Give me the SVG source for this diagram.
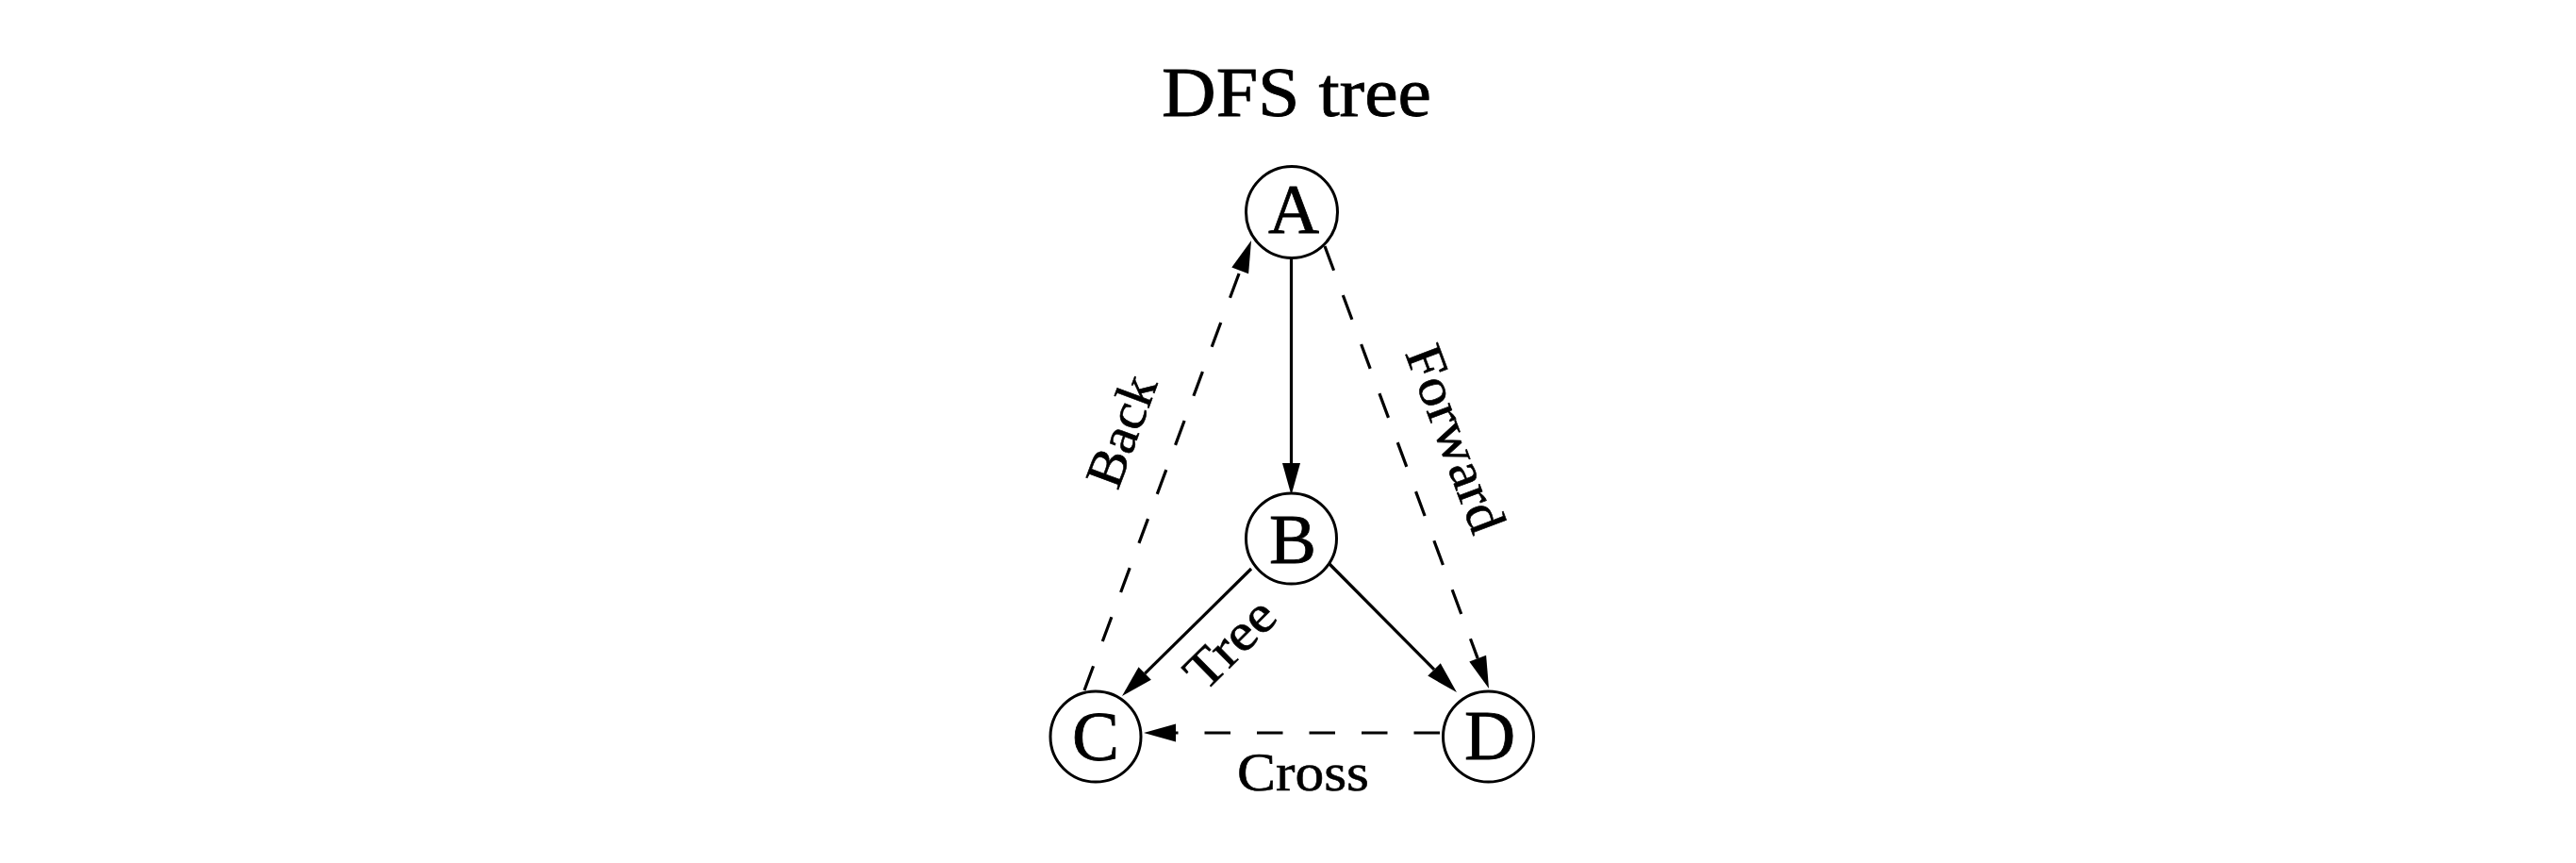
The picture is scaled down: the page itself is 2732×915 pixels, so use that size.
<svg xmlns="http://www.w3.org/2000/svg" width="2732" height="915" viewBox="0 0 2732 915">
<style>
.node circle{fill:#fff;stroke:#000;stroke-width:3}
.nl{font-family:"Liberation Serif","Times New Roman",serif;font-size:75px;text-anchor:middle;fill:#000;stroke:#000;stroke-width:0.8}
.el{font-family:"Liberation Serif","Times New Roman",serif;font-size:56px;text-anchor:middle;fill:#000;stroke:#000;stroke-width:0.6}
.e{fill:none;stroke:#000;stroke-width:3.2;marker-end:url(#arr)}
.d{stroke-dasharray:27.5 28}
</style>
<defs>
<marker id="arr" markerUnits="userSpaceOnUse" markerWidth="36" markerHeight="22" viewBox="0 -11 36 22" refX="0" refY="0" orient="auto" overflow="visible">
<path d="M0,-9.5 L34,0 L0,9.5 Z" fill="#000"/>
</marker>
</defs>
<rect width="2732" height="915" fill="#fff"/>
<text class="nl" x="1375" y="123" textLength="286" lengthAdjust="spacingAndGlyphs">DFS tree</text>
<g id="edges">
<line class="e" x1="1369.5" y1="274" x2="1369.5" y2="491"/>
<line class="e d" x1="1150" y1="732" x2="1315.2" y2="286.9"/>
<line class="e" x1="1327" y1="603" x2="1214.2" y2="714.1"/>
<line class="e" x1="1410" y1="598" x2="1521" y2="709.9"/>
<line class="e d" x1="1405" y1="261" x2="1567.2" y2="698.1"/>
<line class="e d" x1="1527" y1="777" x2="1247" y2="777"/>
<text class="el" transform="translate(1189,457) rotate(-69.6)" x="0" y="19" textLength="122" lengthAdjust="spacingAndGlyphs">Back</text>
<text class="el" transform="translate(1544,465) rotate(69.4)" x="0" y="19" textLength="208" lengthAdjust="spacingAndGlyphs">Forward</text>
<text class="el" transform="translate(1304,682) rotate(-44.6)" x="0" y="19" textLength="112" lengthAdjust="spacingAndGlyphs">Tree</text>
<text class="el" x="1382" y="838" textLength="140" lengthAdjust="spacingAndGlyphs">Cross</text>
</g>
<g id="node-A" class="node"><circle cx="1370" cy="225" r="48.5"/><text class="nl" x="1372" y="247">A</text></g>
<g id="node-B" class="node"><circle cx="1369.5" cy="571" r="48"/><text class="nl" x="1371" y="597">B</text></g>
<g id="node-C" class="node"><circle cx="1162" cy="781" r="48"/><text class="nl" x="1162" y="806">C</text></g>
<g id="node-D" class="node"><circle cx="1578.5" cy="781" r="48"/><text class="nl" x="1580" y="805">D</text></g>
</svg>
